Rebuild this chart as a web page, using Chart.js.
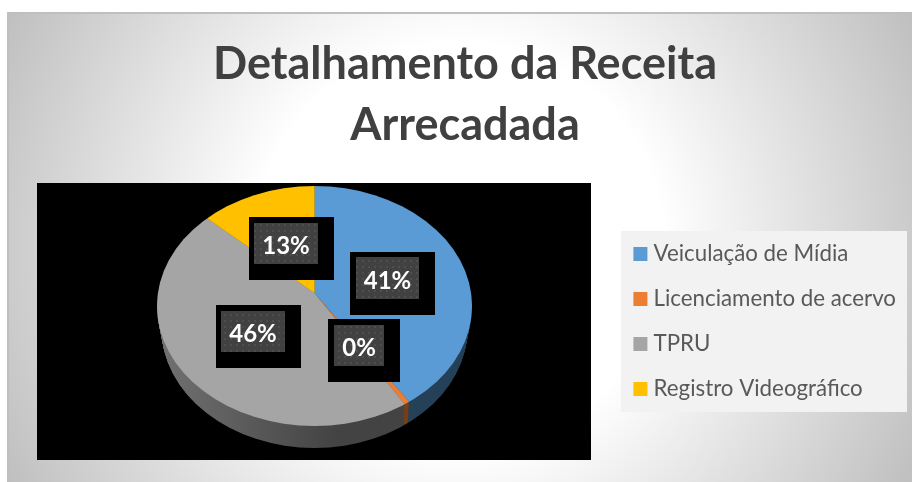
<!DOCTYPE html>
<html>
<head>
<meta charset="utf-8">
<style>html,body{margin:0;padding:0;background:#fff;overflow:hidden}canvas{display:block}</style>
<script src="https://cdn.jsdelivr.net/npm/chart.js@4/dist/chart.umd.min.js"></script>
</head>
<body>
<canvas id="c" width="912" height="482"></canvas>
<script>
const categories = ['Veiculação de Mídia', 'Licenciamento de acervo', 'TPRU', 'Registro Videográfico'];
const shares = [40.9, 0.49, 45.61, 13];
const sliceColors = ['#5B9BD5', '#ED7D31', '#A5A5A5', '#FFC000'];
const wallColors = ['#264259', '#7A3F15', '#555555', '#806000'];
const titleLines = ['Detalhamento da Receita', 'Arrecadada'];

// page layout
const SLIDE = {x: 7, y: 12, w: 905, h: 470};
const PLOT = {x: 37, y: 183, w: 554, h: 277};
const LEGEND_BOX = {x: 621, y: 231, w: 286, h: 181};
const LEGEND_SHIFT_X = -6, LEGEND_SLACK = 40;
// pie projection: the slices fan out from the apex, the disc outline is an ellipse
const APEX = {x: 314.5, y: 293};
const DISC = {x: 314.5, y: 306, rx: 157.5, ry: 120};
const FAN_R = 210, FAN_RATIO = 0.74, DEPTH = 22, WALL_TAPER = 0.2;
// data label boxes relative to the apex, one per slice
const LABEL_BOXES = [
  {dx: 36, dy: -41, w: 85, h: 63, ix: 6, iy: 5, iw: 63, ih: 42},
  {dx: 14, dy: 26, w: 72, h: 63, ix: 6, iy: 6, iw: 50, ih: 41},
  {dx: -98, dy: 12, w: 85, h: 63, ix: 5, iy: 6, iw: 64, ih: 41},
  {dx: -65, dy: -76, w: 85, h: 63, ix: 5, iy: 6, iw: 64, ih: 41}
];

function texture(ctx) {
  const t = document.createElement('canvas');
  t.width = t.height = 6;
  const g = t.getContext('2d');
  g.fillStyle = '#414141'; g.fillRect(0, 0, 6, 6);
  g.fillStyle = '#4e4e4e'; g.fillRect(2, 2, 2, 2);
  return ctx.createPattern(t, 'repeat');
}

function drawFan(chart, ctx, meta, cy, disc, colorOf) {
  ctx.save();
  ctx.beginPath();
  ctx.ellipse(disc.x, disc.y, disc.rx, disc.ry, 0, 0, Math.PI * 2);
  ctx.clip();
  meta.data.forEach((arc, i) => {
    const orig = arc.options;
    ctx.save();
    ctx.translate(APEX.x, cy);
    ctx.scale(FAN_R / arc.outerRadius, FAN_R * FAN_RATIO / arc.outerRadius);
    ctx.translate(-arc.x, -arc.y);
    arc.options = Object.assign({}, orig, {backgroundColor: colorOf(i)});
    arc.draw(ctx);
    arc.options = orig;
    ctx.restore();
  });
  ctx.restore();
}

const slidePlugin = {
  id: 'slide',
  afterLayout(chart) {
    const lg = chart.legend;
    lg.top = LEGEND_BOX.y - LEGEND_SLACK;
    lg.bottom = LEGEND_BOX.y + LEGEND_BOX.h + LEGEND_SLACK;
    lg.left += LEGEND_SHIFT_X;
    lg.right += LEGEND_SHIFT_X;
  },
  beforeDraw(chart) {
    const ctx = chart.ctx;
    ctx.save();
    ctx.fillStyle = '#fff';
    ctx.fillRect(0, 0, chart.width, chart.height);
    const cx = SLIDE.x + SLIDE.w / 2, cy = SLIDE.y + SLIDE.h / 2;
    const g = ctx.createRadialGradient(cx, cy, 0, cx, cy, 510);
    g.addColorStop(0, '#ffffff');
    g.addColorStop(0.4, '#ffffff');
    g.addColorStop(1, '#bfbfbf');
    ctx.fillStyle = g;
    ctx.fillRect(SLIDE.x, SLIDE.y, SLIDE.w, SLIDE.h);
    ctx.fillStyle = '#bfbfbf';
    ctx.fillRect(SLIDE.x, SLIDE.y, SLIDE.w, 2);
    ctx.fillRect(SLIDE.x, SLIDE.y, 2, SLIDE.h);
    ctx.fillStyle = '#000';
    ctx.fillRect(PLOT.x, PLOT.y, PLOT.w, PLOT.h);
    ctx.fillStyle = '#F2F2F2';
    ctx.fillRect(LEGEND_BOX.x, LEGEND_BOX.y, LEGEND_BOX.w, LEGEND_BOX.h);
    ctx.restore();
  },
  beforeDatasetsDraw(chart) {
    const ctx = chart.ctx;
    const meta = chart.getDatasetMeta(0);
    const wg = ctx.createLinearGradient(DISC.x - DISC.rx, 0, DISC.x + 20, 0);
    wg.addColorStop(0, '#8a8a8a');
    wg.addColorStop(0.5, '#666666');
    wg.addColorStop(1, '#434343');
    for (let t = DEPTH; t >= 1; t--) {
      const d = {x: DISC.x, y: DISC.y + t, rx: DISC.rx - t * WALL_TAPER, ry: DISC.ry};
      drawFan(chart, ctx, meta, APEX.y + t, d, i => (i === 2 ? wg : wallColors[i]));
    }
    drawFan(chart, ctx, meta, APEX.y, DISC, i => sliceColors[i]);
    return false;
  },
  afterDraw(chart) {
    const ctx = chart.ctx;
    const pat = texture(ctx);
    ctx.save();
    ctx.textAlign = 'center';
    ctx.textBaseline = 'middle';
    ctx.font = 'bold 24px Lato';
    shares.forEach((v, i) => {
      const b = LABEL_BOXES[i];
      const x = Math.floor(APEX.x) + b.dx, y = APEX.y + b.dy;
      ctx.fillStyle = '#000';
      ctx.fillRect(x, y, b.w, b.h);
      ctx.fillStyle = pat;
      ctx.fillRect(x + b.ix, y + b.iy, b.iw, b.ih);
      ctx.fillStyle = '#fff';
      ctx.fillText(Math.round(v) + '%', x + b.ix + b.iw / 2, y + b.iy + b.ih / 2 + 3);
    });
    ctx.restore();
  }
};

new Chart(document.getElementById('c'), {
  type: 'pie',
  data: {
    labels: categories,
    datasets: [{data: shares, backgroundColor: sliceColors, borderWidth: 0}]
  },
  options: {
    responsive: false,
    animation: false,
    rotation: 0,
    layout: {padding: {left: 18, right: 0, top: 34, bottom: 40}},
    plugins: {
      tooltip: {enabled: false},
      title: {
        display: true,
        text: titleLines,
        color: '#404040',
        font: {family: 'Lato', size: 45, weight: 'bold', lineHeight: 1.356},
        padding: {top: 0, bottom: 10}
      },
      legend: {
        position: 'right',
        align: 'center',
        labels: {
          color: '#595959',
          font: {family: 'Lato', size: 22.3},
          boxWidth: 4,
          boxHeight: 4,
          padding: 22.7,
          generateLabels(chart) {
            return categories.map((c, i) => ({
              text: c, fillStyle: sliceColors[i], strokeStyle: sliceColors[i],
              fontColor: '#595959', lineWidth: 10, index: i, hidden: false
            }));
          }
        }
      }
    }
  },
  plugins: [slidePlugin]
});
</script>
</body>
</html>
